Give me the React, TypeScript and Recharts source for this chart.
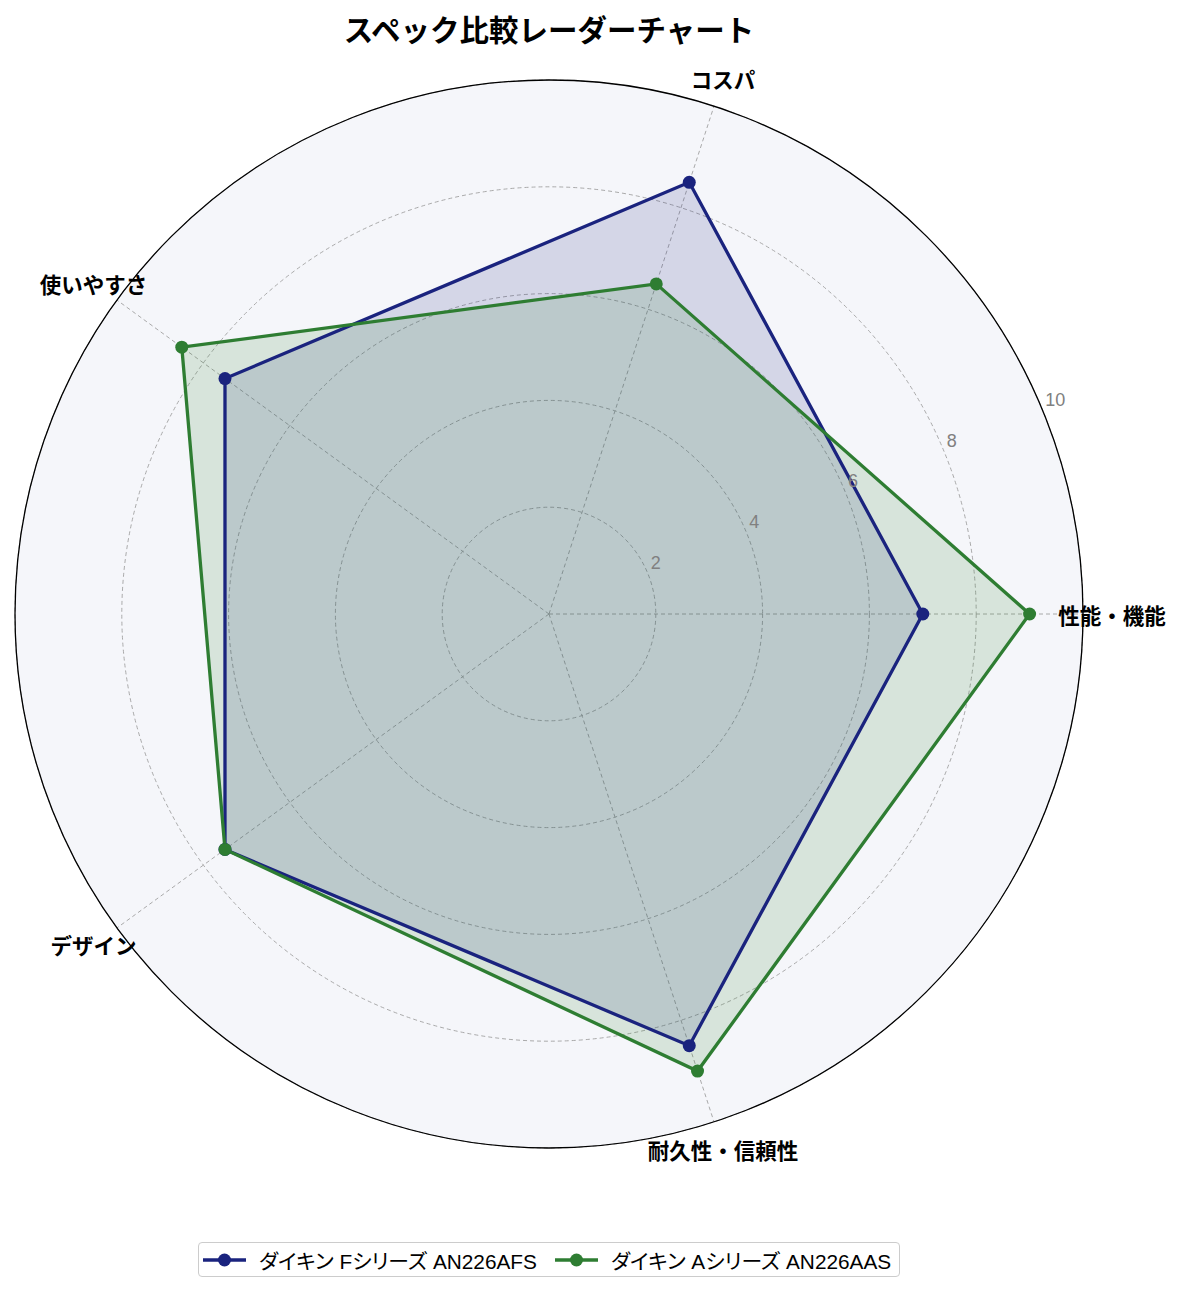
import React from 'react';
import { RadarChart, Radar, PolarGrid, PolarAngleAxis, PolarRadiusAxis } from 'recharts';

const categories = ['性能・機能', 'コスパ', '使いやすさ', 'デザイン', '耐久性・信頼性'];
const fSeriesValues = [7, 8.5, 7.5, 7.5, 8.5];
const aSeriesValues = [9, 6.5, 8.5, 7.5, 9];
const radiusTicks = [0, 2, 4, 6, 8, 10];

const seriesNames = ['ダイキン Fシリーズ AN226AFS', 'ダイキン Aシリーズ AN226AAS'];
const seriesColors = ['#1a237e', '#2e7d32'];
const chartTitle = 'スペック比較レーダーチャート';

// Recharts lays categories out clockwise; keep the first one at 3 o'clock and
// reverse the rest so the axes run counter-clockwise like the original.
const order = [0, ...categories.map((_, i) => i).slice(1).reverse()];
const data = order.map((i) => ({
  subject: categories[i],
  f: fSeriesValues[i],
  a: aSeriesValues[i],
}));

const FONT = '"Noto Sans CJK JP", "Noto Sans", sans-serif';
const W = 1169;
const H = 1276;
const CX = 541;
const CY = 606;
const R = 534;

const AngleTick = (props: any) => {
  const { x, y, payload } = props;
  return (
    <text
      x={x}
      y={y}
      textAnchor="middle"
      dominantBaseline="central"
      fontSize={21.5}
      fontWeight={700}
      fill="#000"
      fontFamily={FONT}
    >
      {payload.value}
    </text>
  );
};

const RadiusTick = (props: any) => {
  const { x, y, payload } = props;
  if (payload.value === 0) return <g />;
  return (
    <text
      x={x + 3}
      y={y - 4}
      textAnchor="start"
      fontSize={18}
      fill="#808080"
      fontFamily='"Liberation Sans", sans-serif'
    >
      {payload.value}
    </text>
  );
};

const makeDot = (color: string) => (props: any) => (
  <circle key={`${color}-${props.index}`} cx={props.cx} cy={props.cy} r={6.5} fill={color} />
);

export default function App() {
  return (
    <div style={{ position: 'relative', width: W, height: H, fontFamily: FONT }}>
      <div
        style={{
          position: 'absolute',
          left: CX - R,
          top: CY - R,
          width: 2 * R,
          height: 2 * R,
          borderRadius: '50%',
          background: '#f5f6fa',
        }}
      />
      <div
        style={{
          position: 'absolute',
          top: 4,
          left: 0,
          width: 2 * CX,
          textAlign: 'center',
          fontSize: 29.5,
          fontWeight: 700,
          lineHeight: '32px',
        }}
      >
        {chartTitle}
      </div>
      <div style={{ position: 'absolute', left: 0, top: 0 }}>
        <RadarChart
          width={W}
          height={H}
          data={data}
          cx={CX}
          cy={CY}
          outerRadius={R}
          startAngle={0}
          endAngle={-360}
          margin={{ top: 0, right: 0, bottom: 0, left: 0 }}
        >
          <Radar dataKey="f" stroke="none" fill={seriesColors[0]} fillOpacity={0.15} dot={false} isAnimationActive={false} />
          <Radar dataKey="a" stroke="none" fill={seriesColors[1]} fillOpacity={0.15} dot={false} isAnimationActive={false} />
          <PolarGrid gridType="circle" stroke="#a0a0a0" strokeDasharray="4 3" strokeWidth={0.9} />
          <PolarRadiusAxis
            angle={22.5}
            domain={[0, 10]}
            ticks={radiusTicks as any}
            tickCount={6}
            axisLine={false}
            tick={RadiusTick}
          />
          <PolarAngleAxis
            dataKey="subject"
            axisLineType="circle"
            axisLine={{ stroke: '#000', strokeWidth: 1.3 }}
            tickLine={false}
            tickSize={29}
            tick={AngleTick}
          />
          <Radar
            dataKey="f"
            stroke={seriesColors[0]}
            strokeWidth={3.3}
            fill="none"
            fillOpacity={0}
            dot={makeDot(seriesColors[0])}
            isAnimationActive={false}
          />
          <Radar
            dataKey="a"
            stroke={seriesColors[1]}
            strokeWidth={3.3}
            fill="none"
            fillOpacity={0}
            dot={makeDot(seriesColors[1])}
            isAnimationActive={false}
          />
        </RadarChart>
      </div>
      <div
        style={{
          position: 'absolute',
          left: 190,
          top: 1234,
          height: 35,
          boxSizing: 'border-box',
          border: '1px solid #ccc',
          borderRadius: 4,
          background: '#fff',
          display: 'flex',
          alignItems: 'center',
          padding: '0 8px 0 4px',
          fontSize: 20.8,
          fontFamily: '"Liberation Sans", "Noto Sans CJK JP", sans-serif',
          fontFeatureSettings: '"palt"',
        }}
      >
        {seriesNames.map((name, i) => (
          <div key={name} style={{ display: 'flex', alignItems: 'center', marginRight: i === 0 ? 18 : 0 }}>
            <svg width={43} height={16} style={{ marginRight: 13 }}>
              <line x1={0} y1={8} x2={43} y2={8} stroke={seriesColors[i]} strokeWidth={3.3} />
              <circle cx={21.5} cy={8} r={6.5} fill={seriesColors[i]} />
            </svg>
            <span>{name}</span>
          </div>
        ))}
      </div>
    </div>
  );
}
